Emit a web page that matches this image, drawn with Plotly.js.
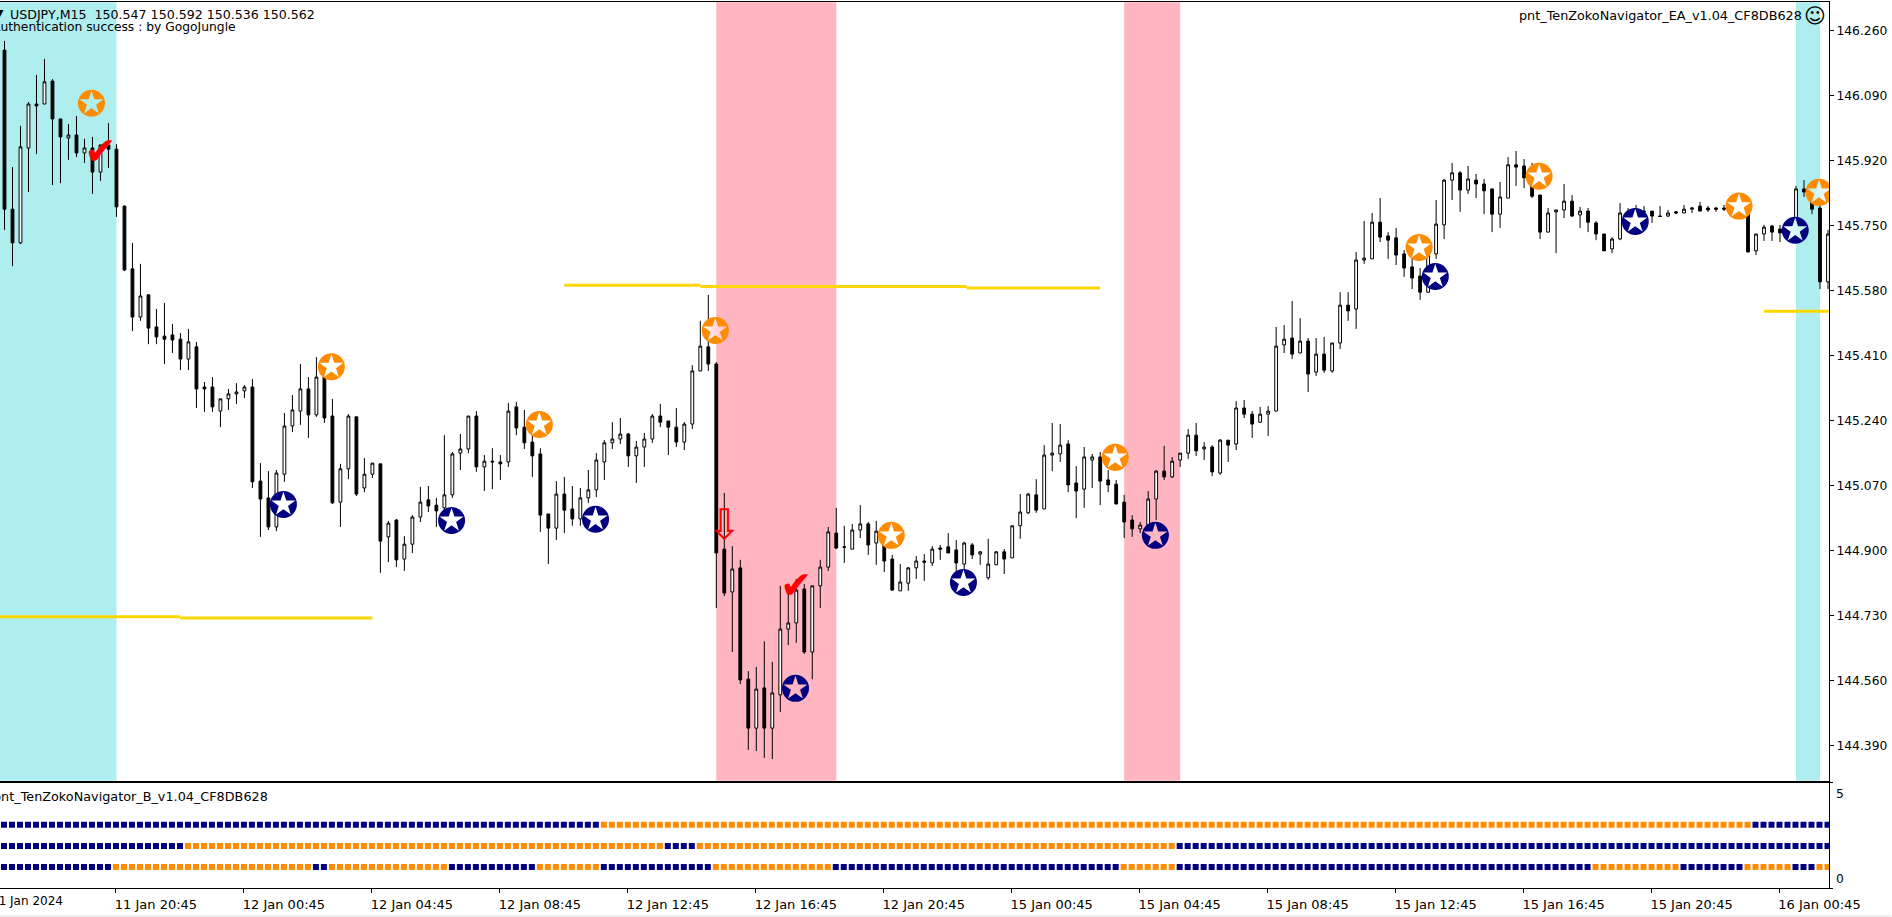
<!DOCTYPE html>
<html><head><meta charset="utf-8">
<script src="https://cdn.plot.ly/plotly-3.0.1.min.js"></script>
<style>html,body{margin:0;padding:0;background:#fff;overflow:hidden}</style></head>
<body><div id="chart" style="width:1892px;height:917px"></div>
<script>
const open=[146.209,145.793,145.705,145.953,146.068,146.068,146.128,146.029,145.979,145.987,145.940,145.953,145.890,145.961,145.950,145.801,145.637,145.511,145.569,145.485,145.461,145.464,145.453,145.401,145.433,145.328,145.328,145.265,145.297,145.310,145.318,145.328,145.082,145.038,144.962,145.100,145.226,145.265,145.323,145.255,145.354,145.252,145.027,145.114,145.250,145.064,145.100,145.127,144.936,144.980,144.878,144.917,144.988,145.033,145.019,145.012,145.046,145.155,145.166,145.252,145.119,145.134,145.132,145.132,145.276,145.223,145.184,145.153,144.996,144.959,145.048,145.009,144.983,145.038,145.059,145.132,145.182,145.192,145.205,145.148,145.171,145.192,145.252,145.239,145.223,145.184,145.231,145.370,145.433,145.388,144.904,144.792,144.855,144.564,144.436,144.541,144.436,144.523,144.695,144.711,144.800,144.635,144.808,144.857,144.946,144.910,144.904,144.954,144.970,144.920,144.951,144.878,144.795,144.815,144.855,144.873,144.868,144.907,144.910,144.902,144.865,144.915,144.891,144.829,144.863,144.897,144.881,144.965,144.999,145.046,145.009,145.150,145.153,145.179,145.077,145.061,145.137,145.145,145.085,145.074,145.027,144.980,144.957,144.967,145.035,145.108,145.093,145.137,145.155,145.202,145.166,145.171,145.103,145.189,145.179,145.273,145.257,145.236,145.257,145.265,145.438,145.456,145.417,145.448,145.367,145.414,145.370,145.443,145.542,145.532,145.660,145.663,145.759,145.723,145.718,145.676,145.642,145.618,145.576,145.676,145.752,145.869,145.888,145.843,145.869,145.859,145.846,145.780,145.822,145.909,145.906,145.875,145.830,145.733,145.786,145.791,145.814,145.778,145.788,145.757,145.728,145.689,145.715,145.783,145.791,145.788,145.788,145.775,145.775,145.786,145.783,145.793,145.801,145.796,145.796,145.796,145.796,145.791,145.786,145.684,145.728,145.749,145.741,145.744,145.759,145.846,145.838,145.796,145.603];
const high=[146.233,145.903,146.011,146.073,146.144,146.186,146.133,146.029,146.016,146.037,145.977,145.982,145.961,146.018,145.963,145.803,145.705,145.650,145.569,145.532,145.548,145.493,145.469,145.480,145.446,145.341,145.354,145.297,145.323,145.338,145.333,145.349,145.129,145.108,145.111,145.260,145.307,145.388,145.354,145.406,145.359,145.297,145.127,145.257,145.250,145.142,145.129,145.127,144.978,144.983,144.938,144.993,145.067,145.069,145.038,145.202,145.158,145.205,145.252,145.265,145.150,145.168,145.150,145.286,145.289,145.268,145.202,145.168,144.996,145.082,145.093,145.069,145.064,145.111,145.155,145.189,145.236,145.247,145.208,145.187,145.208,145.257,145.284,145.239,145.273,145.236,145.385,145.501,145.569,145.393,145.051,144.912,144.876,144.585,144.596,144.663,144.609,144.808,144.810,144.826,144.813,144.808,144.876,144.962,145.012,144.965,144.970,145.019,144.975,144.978,144.965,144.889,144.865,144.857,144.886,144.891,144.912,144.915,144.946,144.928,144.923,144.920,144.899,144.931,144.899,144.904,144.965,145.048,145.051,145.087,145.176,145.234,145.231,145.189,145.121,145.171,145.153,145.158,145.111,145.085,145.046,144.993,144.975,145.056,145.111,145.174,145.145,145.155,145.218,145.234,145.184,145.176,145.192,145.189,145.291,145.294,145.265,145.276,145.278,145.485,145.490,145.553,145.508,145.456,145.456,145.459,145.443,145.576,145.576,145.681,145.762,145.783,145.822,145.733,145.744,145.686,145.694,145.639,145.681,145.817,145.872,145.914,145.893,145.906,145.885,145.872,145.846,145.864,145.929,145.945,145.924,145.914,145.830,145.796,145.791,145.859,145.830,145.799,145.796,145.762,145.728,145.720,145.809,145.796,145.804,145.801,145.788,145.801,145.791,145.788,145.804,145.799,145.812,145.801,145.799,145.804,145.804,145.799,145.804,145.728,145.752,145.752,145.752,145.757,145.854,145.869,145.854,145.809,145.739];
const low=[145.739,145.644,145.702,145.838,145.937,146.068,145.856,145.861,145.922,145.929,145.914,145.833,145.867,145.901,145.773,145.631,145.474,145.501,145.440,145.440,145.388,145.417,145.372,145.372,145.273,145.263,145.263,145.223,145.268,145.284,145.299,145.064,144.936,144.954,144.951,145.080,145.210,145.229,145.195,145.250,145.234,145.022,144.962,145.087,145.043,145.053,145.090,144.842,144.870,144.857,144.847,144.894,144.975,145.001,144.962,144.985,145.038,145.111,145.155,145.106,145.056,145.061,145.085,145.119,145.202,145.166,145.093,144.949,144.865,144.928,144.946,144.965,144.965,145.025,145.040,145.085,145.166,145.179,145.119,145.077,145.119,145.182,145.223,145.150,145.171,145.163,145.218,145.370,145.370,144.750,144.781,144.635,144.551,144.379,144.376,144.358,144.355,144.478,144.653,144.659,144.630,144.564,144.750,144.847,144.904,144.868,144.904,144.933,144.889,144.863,144.844,144.795,144.795,144.795,144.826,144.821,144.860,144.876,144.894,144.844,144.850,144.878,144.863,144.824,144.863,144.839,144.881,144.931,144.996,144.999,145.009,145.108,145.132,145.053,144.985,145.012,145.064,145.019,145.053,145.022,144.933,144.936,144.946,144.949,144.980,145.085,145.090,145.119,145.140,145.148,145.137,145.095,145.098,145.132,145.163,145.247,145.195,145.234,145.200,145.265,145.417,145.401,145.417,145.315,145.357,145.365,145.365,145.427,145.501,145.480,145.650,145.663,145.707,145.663,145.647,145.616,145.584,145.556,145.574,145.663,145.715,145.817,145.786,145.833,145.822,145.780,145.733,145.744,145.822,145.854,145.848,145.822,145.715,145.733,145.678,145.770,145.773,145.744,145.733,145.712,145.684,145.678,145.712,145.752,145.765,145.744,145.757,145.773,145.773,145.780,145.783,145.783,145.788,145.786,145.786,145.788,145.786,145.780,145.681,145.673,145.710,145.710,145.707,145.712,145.725,145.825,145.780,145.584,145.584];
const close=[145.793,145.705,145.956,146.068,146.063,146.126,146.029,145.982,145.987,145.940,145.953,145.890,145.961,145.950,145.799,145.634,145.511,145.566,145.482,145.459,145.453,145.451,145.401,145.446,145.323,145.323,145.276,145.297,145.310,145.315,145.328,145.080,145.035,144.962,145.103,145.226,145.268,145.323,145.255,145.354,145.247,145.025,145.114,145.252,145.048,145.100,145.129,144.925,144.972,144.876,144.917,144.988,145.027,145.017,145.004,145.046,145.153,145.166,145.252,145.119,145.134,145.132,145.127,145.265,145.221,145.182,145.148,144.993,144.959,145.048,145.006,144.983,145.038,145.059,145.137,145.182,145.192,145.205,145.148,145.171,145.192,145.252,145.236,145.223,145.184,145.231,145.370,145.435,145.388,144.894,144.789,144.852,144.562,144.436,144.538,144.436,144.528,144.695,144.711,144.797,144.635,144.808,144.857,144.949,144.907,144.909,144.954,144.970,144.915,144.951,144.873,144.797,144.818,144.855,144.873,144.870,144.904,144.904,144.894,144.868,144.920,144.889,144.897,144.865,144.897,144.878,144.965,145.001,145.048,145.006,145.150,145.155,145.176,145.072,145.056,145.145,145.145,145.082,145.072,145.022,144.975,144.957,144.967,145.035,145.108,145.093,145.134,145.155,145.202,145.161,145.171,145.106,145.189,145.176,145.273,145.257,145.231,145.257,145.265,145.435,145.453,145.414,145.448,145.362,145.414,145.372,145.443,145.542,145.527,145.660,145.665,145.759,145.720,145.712,145.673,145.639,145.613,145.576,145.676,145.754,145.869,145.888,145.843,145.872,145.859,145.841,145.780,145.825,145.909,145.903,145.875,145.827,145.733,145.783,145.791,145.814,145.775,145.788,145.759,145.728,145.684,145.715,145.783,145.770,145.780,145.786,145.775,145.774,145.783,145.783,145.793,145.796,145.788,145.791,145.793,145.793,145.793,145.783,145.681,145.728,145.746,145.733,145.731,145.733,145.846,145.838,145.793,145.603,145.728];

const priceTicks=[146.260,146.090,145.920,145.750,145.580,145.410,145.240,145.070,144.900,144.730,144.560,144.390];
const timeTickBars=[14,30,46,62,78,94,110,126,142,158,174,190,206,222];
const timeTickLabels=["11 Jan 20:45","12 Jan 00:45","12 Jan 04:45","12 Jan 08:45","12 Jan 12:45","12 Jan 16:45","12 Jan 20:45","15 Jan 00:45","15 Jan 04:45","15 Jan 08:45","15 Jan 12:45","15 Jan 16:45","15 Jan 20:45","16 Jan 00:45"];

const orangeBars=[10.875,40.875,66.875,88.875,110.875,138.875,176.875,191.875,216.875,226.875];
const orangePrices=[146.070,145.381,145.230,145.476,144.940,145.144,145.693,145.879,145.801,145.837];
const navyBars=[34.875,55.9,73.9,98.9,119.9,143.9,178.9,203.9,223.9];
const navyPrices=[145.021,144.979,144.982,144.540,144.817,144.940,145.617,145.761,145.738];

const checkBars=[12,99];
const checkPrices=[145.935,144.802];
const arrowBars=[90];
const arrowPrices=[144.959];

const goldSegments=[
 [-0.6,22,144.727,144.727],[22,46,144.724,144.724],
 [70,87,145.594,145.594],[87,120.3,145.591,145.591],[120.3,137,145.587,145.587],
 [220,228.2,145.526,145.526]];

const cyanZones=[[-0.6,14],[224,227]];
const pinkZones=[[89,104],[140,147]];

// indicator rows: [colour key, number of bars]
const rowTopRuns=[['n',75],['o',144],['n',10]];
const rowMidRuns=[['n',23],['o',60],['n',4],['o',60],['n',82]];
const rowBotRuns=[['n',14],['o',25],['n',2],['o',15],['n',11],['o',8],['n',14],['o',15],['n',36],['o',7],['n',52],['o',11],['n',8],['o',6],['n',3],['o',2]];
const rowLevels=[3,2,1];

const NAVY='#000080',ORANGE='#FF8C00',CYAN='#AFEEEE',PINK='#FFB6C1',GOLD='#FFD700';
const FONT='"DejaVu Sans", sans-serif';
const W=1892,H=917,PW=1829.5;
const px=x=>x/PW, py=y=>1-y/H;

const bars=open.map((_,i)=>i);
const traces=[];
goldSegments.forEach(s=>traces.push({type:'scatter',mode:'lines',x:[s[0],s[1]],y:[s[2],s[3]],line:{color:GOLD,width:3},xaxis:'x',yaxis:'y',hoverinfo:'skip'}));
traces.push({type:'candlestick',x:bars,open,high,low,close,xaxis:'x',yaxis:'y',whiskerwidth:0,
 increasing:{line:{color:'#000',width:1},fillcolor:'#fff'},
 decreasing:{line:{color:'#000',width:1},fillcolor:'#000'},hoverinfo:'skip'});
traces.push({type:'scatter',mode:'markers',x:orangeBars,y:orangePrices,marker:{symbol:'circle',size:27,color:ORANGE},xaxis:'x',yaxis:'y',hoverinfo:'skip'});
traces.push({type:'scatter',mode:'markers',x:navyBars,y:navyPrices,marker:{symbol:'circle',size:27,color:NAVY},xaxis:'x',yaxis:'y',hoverinfo:'skip'});
// star cut-outs show the backdrop colour behind each marker
const zoneOf=b=>{const c=b+0.125;
 if(cyanZones.some(z=>c>=z[0]&&c<=z[1]))return CYAN;
 if(pinkZones.some(z=>c>=z[0]&&c<=z[1]))return PINK;return '#FFFFFF';};
const starX=orangeBars.concat(navyBars), starY=orangePrices.concat(navyPrices);
const straddle=[[88.875,'#FFFFFF',PINK],[223.9,'#FFFFFF',CYAN],[226.875,CYAN,'#FFFFFF']];
const isStr=b=>straddle.some(s=>s[0]===b);
traces.push({type:'scatter',mode:'markers',x:starX.filter(b=>!isStr(b)),y:starY.filter((_,i)=>!isStr(starX[i])),
 marker:{symbol:'star',size:18,color:starX.filter(b=>!isStr(b)).map(zoneOf)},xaxis:'x',yaxis:'y',hoverinfo:'skip'});
straddle.forEach(s=>traces.push({type:'scatter',mode:'markers',x:[s[0]],y:[starY[starX.indexOf(s[0])]],
 marker:{symbol:'star',size:18,color:s[1],gradient:{type:'horizontal',color:s[2]}},xaxis:'x',yaxis:'y',hoverinfo:'skip'}));
traces.push({type:'scatter',mode:'text',x:checkBars,y:checkPrices,text:checkBars.map(()=>'\u2714'),textposition:'middle center',
 textfont:{family:FONT,size:38,color:'#FF0000'},xaxis:'x',yaxis:'y',hoverinfo:'skip'});
traces.push({type:'scatter',mode:'text',x:arrowBars,y:arrowPrices,text:arrowBars.map(()=>'\u21E9'),textposition:'middle center',
 textfont:{family:FONT,size:42,color:'#FF0000'},xaxis:'x',yaxis:'y',hoverinfo:'skip'});

[rowTopRuns,rowMidRuns,rowBotRuns].forEach((runs,r)=>{
 const xs=[],cs=[];let k=0;
 runs.forEach(run=>{for(let j=0;j<run[1];j++){xs.push(k++);cs.push(run[0]==='n'?NAVY:ORANGE);}});
 traces.push({type:'scatter',mode:'markers',x:xs,y:xs.map(()=>rowLevels[r]),
  marker:{symbol:'square',size:6,color:cs,line:{width:0}},xaxis:'x2',yaxis:'y2',hoverinfo:'skip'});
});

const zone=(z,c)=>({type:'rect',layer:'below',xref:'x',yref:'y domain',x0:z[0],x1:z[1],y0:0,y1:1,fillcolor:c,line:{width:0}});
const shapes=cyanZones.map(z=>zone(z,CYAN)).concat(pinkZones.map(z=>zone(z,PINK)));
shapes.push({type:'rect',layer:'below',xref:'paper',yref:'paper',x0:0,x1:W/PW,y0:0,y1:2/H,fillcolor:'#F0F0F0',line:{width:0}});

const note=(text,x,y,anchor,size)=>({text,xref:'paper',yref:'paper',x:px(x),y:py(y),xanchor:anchor,yanchor:'middle',showarrow:false,
 font:{family:FONT,size:size||12.8,color:'#000'},borderpad:0});
const annotations=[
 note('\u25BC',-6,13,'left',11),
 note('USDJPY,M15\u00A0\u00A0150.547 150.592 150.536 150.562',9,14,'left',12.6),
 note('Authentication success : by GogoJungle',237,27,'right',12.3),
 note('pnt_TenZokoNavigator_EA_v1.04_CF8DB628',1803,15,'right'),
 note('\u263A',1815,16,'center',21),
 note('pnt_TenZokoNavigator_B_v1.04_CF8DB628',269,796,'right'),
 note('11 Jan 2024',64,901,'right',12),
 note('5',1836,794,'left',12.3),
 note('0',1836,879,'left',12.3)
];

const axisBase={showgrid:false,zeroline:false,showline:true,linecolor:'#000',linewidth:1};
const layout={width:W,height:H,autosize:false,margin:{l:0,r:W-PW,t:0,b:0,pad:0},
 paper_bgcolor:'#fff',plot_bgcolor:'#fff',showlegend:false,boxgap:0.5,boxmode:'overlay',hovermode:false,
 font:{family:FONT,size:12.3,color:'#000'},shapes,annotations,
 xaxis:{...axisBase,domain:[0,1],range:[-0.5625,228.125],anchor:'y',mirror:true,showticklabels:false,ticks:'',rangeslider:{visible:false},type:'linear'},
 xaxis2:{...axisBase,domain:[0,1],range:[-0.5,228.1875],anchor:'y2',mirror:true,type:'linear',tickmode:'array',tickvals:timeTickBars,ticktext:timeTickLabels,
  ticks:'outside',ticklen:4,tickcolor:'#000',tickangle:0,ticklabelshift:40,tickfont:{family:FONT,size:13,color:'#000'}},
 yaxis:{...axisBase,domain:[py(780.7),py(2.3)],range:[146.34-0.002615*780.7,146.34-0.002615*2.3],anchor:'x',side:'right',tickmode:'array',tickvals:priceTicks,
  ticktext:priceTicks.map(v=>v.toFixed(3)),ticks:'outside',ticklen:4,tickcolor:'#000',tickfont:{family:FONT,size:12.3,color:'#000'}},
 yaxis2:{...axisBase,domain:[py(888),py(782.7)],range:[0,5],anchor:'x2',side:'right',tickmode:'array',tickvals:[0,5],showticklabels:false,ticks:'outside',ticklen:3,tickcolor:'#000'}
};
Plotly.newPlot('chart',traces,layout,{displayModeBar:false,staticPlot:true});
</script></body></html>
